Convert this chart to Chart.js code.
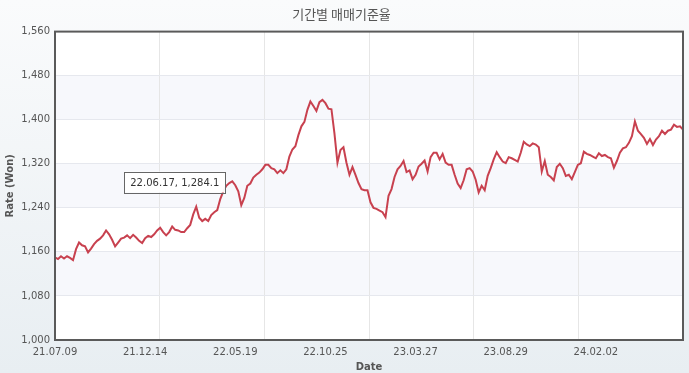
<!DOCTYPE html>
<html>
<head>
<meta charset="utf-8">
<script src="https://cdn.jsdelivr.net/npm/chart.js@4.4.1/dist/chart.umd.min.js"></script>
<style>
  html, body { margin: 0; padding: 0; }
  body {
    width: 689px; height: 373px; overflow: hidden;
    background: linear-gradient(to bottom, #fafbfc 0%, #e8eef2 100%);
  }
  #wrap { width: 689px; height: 373px; }
</style>
</head>
<body>
<div id="wrap"><canvas id="rateChart" width="689" height="373"></canvas></div>
<script>
// tick labels on the date axis and the point index each one sits on
const xLabels = ["21.07.09", "21.12.14", "22.05.19", "22.10.25", "23.03.27", "23.08.29", "24.02.02"];
const labelIdx = [0, 30, 60, 90, 120, 150, 180];

// 매매기준율 (KRW per USD)
const rates = [
  1150, 1147, 1152, 1148, 1152, 1149, 1145, 1165, 1177, 1172,
  1170, 1159, 1166, 1174, 1180, 1184, 1190, 1199, 1192, 1182,
  1170, 1177, 1184, 1186, 1190, 1185, 1191, 1186, 1180, 1176,
  1185, 1189, 1187, 1192, 1199, 1204, 1196, 1190, 1196, 1206,
  1200, 1199, 1196, 1196, 1203, 1209, 1228, 1242, 1222, 1216,
  1220, 1216, 1227, 1232, 1236, 1256, 1270, 1280, 1285, 1288,
  1281, 1270, 1245, 1258, 1280, 1284.1, 1295, 1300, 1304, 1310,
  1318, 1318, 1312, 1310, 1303, 1308, 1303, 1310, 1333, 1346,
  1352, 1372, 1388, 1396, 1418, 1433, 1425, 1416, 1432, 1436,
  1430, 1420, 1419, 1375, 1322, 1345, 1350, 1322, 1300, 1314,
  1300, 1285, 1274, 1272, 1272, 1250, 1240, 1238, 1235, 1232,
  1223, 1262, 1274, 1296, 1310, 1316, 1325, 1305, 1308, 1292,
  1300, 1315, 1320, 1326, 1306, 1332, 1340, 1340, 1328, 1338,
  1322, 1318, 1318, 1300, 1284, 1276, 1290, 1310, 1312, 1306,
  1291, 1268, 1280, 1272, 1298, 1312, 1328, 1341, 1332, 1324,
  1321, 1332, 1330, 1327, 1324, 1340, 1360, 1355, 1352, 1357,
  1355, 1350, 1306, 1325, 1300, 1296, 1290, 1314, 1320, 1312,
  1298, 1300, 1292, 1305, 1318, 1321, 1342, 1338, 1336, 1333,
  1330, 1339, 1334, 1336, 1332, 1330, 1313, 1325, 1340, 1348,
  1350, 1358, 1370, 1397, 1380, 1374, 1367, 1356, 1365, 1354,
  1364, 1370, 1380, 1374, 1380, 1382, 1391, 1387, 1388, 1382
];

const yTicks = [1000, 1080, 1160, 1240, 1320, 1400, 1480, 1560];

// the hover box that is open in the picture
const tipIndex = 65;
const tipText = "22.06.17, 1,284.1";

const lastIdx = rates.length - 1;
const gridVals = [0, 1, 2, 3, 4, 5, 6].map(k => k * lastIdx / 6);

const tickFont = { family: "'DejaVu Sans', Verdana, sans-serif", size: 10 };
const boldFont = { family: "'DejaVu Sans', Verdana, sans-serif", size: 10, weight: "bold" };

// white plot with light bands every other row
const bandPlugin = {
    id: "bands",
    beforeDraw(chart) {
        const { ctx, chartArea: a, scales: { y } } = chart;
        ctx.save();
        ctx.fillStyle = "#ffffff";
        ctx.fillRect(a.left, a.top, a.right - a.left, a.bottom - a.top);
        ctx.fillStyle = "#f7f8fc";
        for (let i = 1; i < yTicks.length - 1; i += 2) {
            const top = y.getPixelForValue(yTicks[i + 1]);
            const bot = y.getPixelForValue(yTicks[i]);
            ctx.fillRect(a.left, top, a.right - a.left, bot - top);
        }
        ctx.restore();
    }
};

// frame round the plot and the tooltip box
const framePlugin = {
    id: "frame",
    afterDraw(chart) {
        const { ctx, chartArea: a } = chart;
        ctx.save();
        ctx.strokeStyle = "#5a5a5a";
        ctx.lineWidth = 2;
        ctx.strokeRect(a.left, a.top, a.right - a.left, a.bottom - a.top);

        const pt = chart.getDatasetMeta(0).data[tipIndex];
        ctx.font = "10px 'DejaVu Sans', Verdana, sans-serif";
        const w = ctx.measureText(tipText).width + 12;
        const h = 21;
        const right = pt.x - 25;
        const top = pt.y - 12;
        ctx.fillStyle = "rgba(255,255,255,0.95)";
        ctx.fillRect(right - w, top, w, h);
        ctx.strokeStyle = "#666";
        ctx.lineWidth = 1;
        ctx.strokeRect(Math.round(right - w) + 0.5, Math.round(top) + 0.5, Math.round(w), h);
        ctx.fillStyle = "#333";
        ctx.textAlign = "center";
        ctx.textBaseline = "middle";
        ctx.fillText(tipText, right - w / 2, top + h / 2 + 1);
        ctx.restore();
    }
};

new Chart("rateChart", {
    type: "line",
    data: {
        datasets: [{
            data: rates.map((v, i) => ({ x: i, y: v })),
            borderColor: "#c8414f",
            borderWidth: 2,
            pointRadius: 0,
            tension: 0
        }]
    },
    options: {
        responsive: false,
        animation: false,
        devicePixelRatio: 1,
        layout: { padding: { right: 6 } },
        plugins: {
            legend: { display: false },
            tooltip: { enabled: false },
            title: {
                display: true,
                text: "기간별 매매기준율",
                color: "#555",
                font: { family: "'Noto Sans CJK KR', sans-serif", size: 13, weight: "normal" },
                padding: { top: 6, bottom: 10 }
            }
        },
        scales: {
            x: {
                type: "linear",
                min: 0,
                max: lastIdx,
                afterBuildTicks: s => {
                    const vals = [...new Set(labelIdx.concat(gridVals))].sort((a, b) => a - b);
                    s.ticks = vals.map(v => ({ value: v }));
                },
                afterFit: s => { s.height = 33; },
                border: { display: false },
                grid: {
                    drawTicks: false,
                    color: c => (c.tick && gridVals.includes(c.tick.value)) ? "#e6e6e6" : "transparent"
                },
                ticks: {
                    autoSkip: false,
                    maxRotation: 0,
                    padding: 6,
                    color: "#555",
                    font: tickFont,
                    callback: v => {
                        const k = labelIdx.indexOf(v);
                        return k >= 0 ? xLabels[k] : "";
                    }
                },
                title: { display: true, text: "Date", color: "#555", font: boldFont, padding: { top: 1, bottom: 0 } }
            },
            y: {
                min: 1000,
                max: 1560,
                afterFit: s => { s.width = 55; },
                border: { display: false },
                grid: { drawTicks: false, color: "#e6e8ee" },
                ticks: {
                    stepSize: 80,
                    padding: 5,
                    color: "#555",
                    font: tickFont,
                    callback: v => v.toLocaleString("en-US")
                },
                title: { display: true, text: "Rate (Won)", color: "#555", font: boldFont, padding: { top: 4, bottom: 0 } }
            }
        }
    },
    plugins: [bandPlugin, framePlugin]
});
</script>
</body>
</html>
